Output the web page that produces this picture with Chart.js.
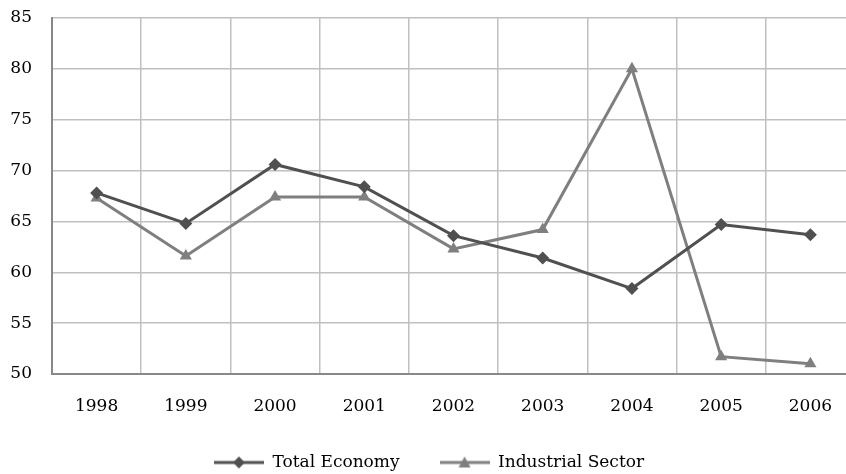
<!DOCTYPE html>
<html>
<head>
<meta charset="utf-8">
<script src="https://cdn.jsdelivr.net/npm/chart.js@4"></script>
<style>
  html, body { margin: 0; padding: 0; background: #fff; overflow: hidden; }
  #wrap { width: 862px; height: 474px; }
</style>
</head>
<body>
<div id="wrap"><canvas id="myChart"></canvas></div>
<script>
const years = ["1998", "1999", "2000", "2001", "2002", "2003", "2004", "2005", "2006"];
const totalEconomy = [67.8, 64.8, 70.6, 68.4, 63.6, 61.4, 58.4, 64.7, 63.7];
const industrialSector = [67.3, 61.6, 67.4, 67.4, 62.3, 64.2, 80.0, 51.7, 51.0];
const yTicks = [50, 55, 60, 65, 70, 75, 80, 85];

const darkLine = "#505050";
const greyLine = "#7f7f7f";
const font = "'DejaVu Serif', serif";

// legend swatch: a short line with the marker on top
function swatch(color, shape) {
  const c = document.createElement("canvas");
  c.width = 50; c.height = 14;
  const ctx = c.getContext("2d");
  ctx.strokeStyle = color;
  ctx.lineWidth = 3;
  ctx.beginPath();
  ctx.moveTo(0, 7); ctx.lineTo(50, 7);
  ctx.stroke();
  ctx.fillStyle = color;
  ctx.beginPath();
  if (shape === "diamond") {
    ctx.moveTo(25, 1); ctx.lineTo(31, 7); ctx.lineTo(25, 13); ctx.lineTo(19, 7);
  } else {
    ctx.moveTo(25, 1); ctx.lineTo(31, 12); ctx.lineTo(19, 12);
  }
  ctx.closePath();
  ctx.fill();
  return c;
}

// wide gap between legend items, but keep the legend box short
const legendHeight = {
  id: "legendHeight",
  afterInit(chart) {
    const lg = chart.legend;
    const fit = lg.fit.bind(lg);
    lg.fit = function () { fit(); this.height = 60; };
  }
};

const chart = new Chart(document.querySelector("#myChart"), {
  type: "line",
  plugins: [legendHeight],
  data: {
    labels: years,
    datasets: [{
        label: "Total Economy",
        data: totalEconomy,
        borderColor: darkLine,
        backgroundColor: darkLine,
        borderWidth: 3,
        pointStyle: "rectRot",
        pointRadius: 6.5,
        pointBorderWidth: 0,
        tension: 0
      }, {
        label: "Industrial Sector",
        data: industrialSector,
        borderColor: greyLine,
        backgroundColor: greyLine,
        borderWidth: 3,
        pointStyle: "triangle",
        pointRadius: 7,
        pointBorderWidth: 0,
        tension: 0
      }]
  },
  options: {
    responsive: true,
    maintainAspectRatio: false,
    animation: false,
    layout: { padding: { top: 18, left: 0, right: 4, bottom: 0 } },
    plugins: {
      tooltip: { enabled: false },
      legend: {
        position: "bottom",
        labels: {
          usePointStyle: true,
          pointStyleWidth: 50,
          padding: 40,
          color: "#000",
          font: { family: font, size: 17 },
          generateLabels: (ch) => ch.data.datasets.map((ds, i) => ({
            text: ds.label,
            datasetIndex: i,
            pointStyle: swatch(ds.borderColor, i === 0 ? "diamond" : "triangle"),
            fillStyle: ds.borderColor,
            strokeStyle: ds.borderColor,
            lineWidth: 0,
            fontColor: "#000"
          }))
        }
      }
    },
    scales: {
      x: {
        offset: true,
        afterFit: (axis) => { axis.height = 40; },
        grid: { offset: true, color: "#c0c0c0", lineWidth: 1.5, drawTicks: false },
        border: { color: "#888", width: 2 },
        ticks: { color: "#000", padding: 22, font: { family: font, size: 17 } }
      },
      y: {
        min: 50,
        max: 85,
        afterBuildTicks: (axis) => { axis.ticks = yTicks.map(v => ({ value: v })); },
        afterFit: (axis) => { axis.width = 52; axis.paddingTop = 0; axis.paddingBottom = 0; },
        grid: { color: "#c0c0c0", lineWidth: 1.5, drawTicks: false },
        border: { color: "#888", width: 2 },
        ticks: { color: "#000", padding: 20, font: { family: font, size: 17 } }
      }
    }
  }
});
</script>
</body>
</html>
